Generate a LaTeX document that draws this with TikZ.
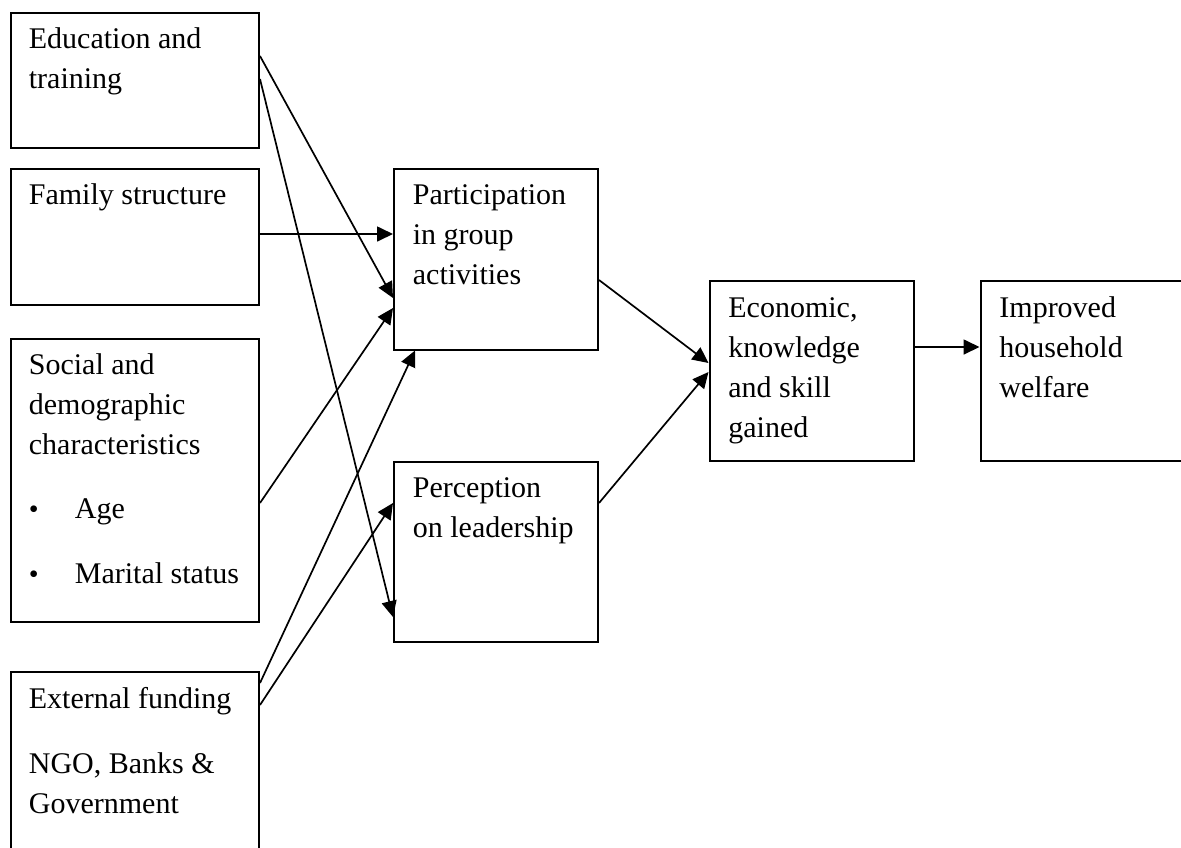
\documentclass[tikz,border=0pt]{standalone}
\usepackage{fontspec}
\setmainfont{Liberation Serif}
\usetikzlibrary{arrows.meta,calc}

\tikzset{
  box/.style={draw, line width=1pt, anchor=north west, inner sep=0pt},
  lbl/.style={anchor=base west, inner sep=0pt, font=\fontsize{15}{20}\selectfont},
  arr/.style={line width=0.85pt, -{Triangle[length=8pt,width=7.5pt]}},
}
\newcommand{\bitem}[1]{\makebox[23pt][l]{\fontsize{14}{14}\selectfont\textbullet}#1}

\begin{document}
\begin{tikzpicture}[x=0.5pt,y=-0.5pt]
  \useasboundingbox (0,0) rectangle (1181,847);
  \clip (0,0) rectangle (1181,847);

  % left column of factors
  \node[box, minimum width=124.25pt, minimum height=67.5pt]  (edu) at (9.5,11.5) {};
  \node[box, minimum width=124.25pt, minimum height=68pt]    (fam) at (9.5,167.5) {};
  \node[box, minimum width=124.25pt, minimum height=141.5pt] (soc) at (9.5,337.5) {};
  \node[box, minimum width=124.25pt, minimum height=100pt]   (ext) at (9.5,671) {};

  % middle column
  \node[box, minimum width=102pt, minimum height=90.5pt] (par) at (393,167.5) {};
  \node[box, minimum width=102pt, minimum height=90pt]   (per) at (393,460.5) {};

  % outcomes
  \node[box, minimum width=102pt, minimum height=90pt]  (eco) at (708.5,280) {};
  \node[box, minimum width=110pt, minimum height=90pt]  (imp) at (979.5,280) {};

  % texts
  \node[lbl] (eduT) at ($(edu.north west)+(19,37)$)
    {\parbox[t]{110pt}{Education and\\training}};
  \node[lbl] (famT) at ($(fam.north west)+(19,37)$)
    {\parbox[t]{110pt}{Family structure}};
  \node[lbl] (socT) at ($(soc.north west)+(19,37)$)
    {\parbox[t]{110pt}{Social and\\demographic\\characteristics\\[12pt]\bitem{Age}\\[12.5pt]\bitem{Marital status}}};
  \node[lbl] (extT) at ($(ext.north west)+(19,37)$)
    {\parbox[t]{110pt}{External funding\\[12.5pt]NGO, Banks \&\\Government}};
  \node[lbl] (parT) at ($(par.north west)+(19.5,37)$)
    {\parbox[t]{90pt}{Participation\\in group\\activities}};
  \node[lbl] (perT) at ($(per.north west)+(19.5,37)$)
    {\parbox[t]{90pt}{Perception\\on leadership}};
  \node[lbl] (ecoT) at ($(eco.north west)+(19.5,37)$)
    {\parbox[t]{90pt}{Economic,\\knowledge\\and skill\\gained}};
  \node[lbl] (impT) at ($(imp.north west)+(19.5,37)$)
    {\parbox[t]{90pt}{Improved\\household\\welfare}};

  % connectors
  \draw[arr] ($(edu.north east)+(0,44.5)$) -- ($(par.north west)+(0,130.5)$);
  \draw[arr] ($(edu.north east)+(0,67.5)$) -- ($(per.north west)+(0,156.5)$);
  \draw[arr] ($(fam.north east)+(0,66.5)$) -- ($(par.north west)+(0,66.5)$);
  \draw[arr] ($(soc.north east)+(0,165.5)$) -- ($(par.north west)+(0,140.5)$);
  \draw[arr] ($(ext.north east)+(0,12)$) -- ($(par.south west)+(22,0)$);
  \draw[arr] ($(ext.north east)+(0,34)$) -- ($(per.north west)+(0,42.5)$);
  \draw[arr] ($(par.north east)+(0,112.5)$) -- ($(eco.north west)+(0,83)$);
  \draw[arr] ($(per.north east)+(0,42.5)$) -- ($(eco.north west)+(0,92)$);
  \draw[arr] ($(eco.north east)+(0,67)$) -- ($(imp.north west)+(0,67)$);
\end{tikzpicture}
\end{document}
